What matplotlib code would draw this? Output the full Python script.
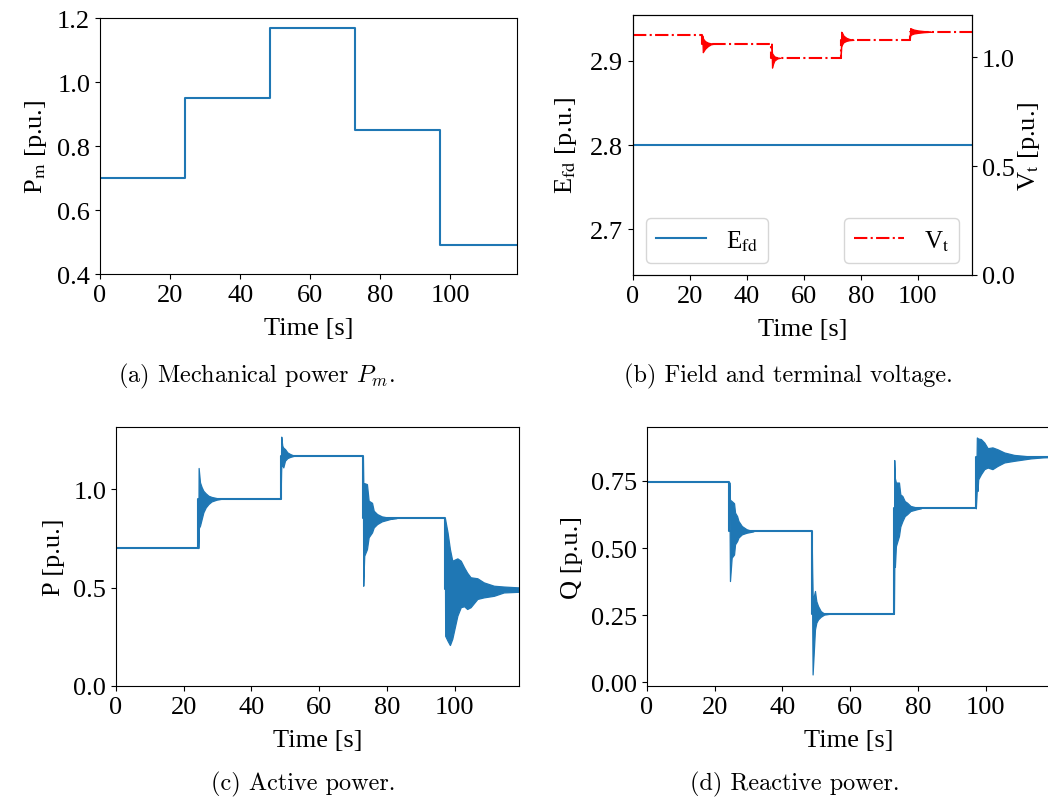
import matplotlib
matplotlib.use('Agg')
import matplotlib.pyplot as plt
import numpy as np

# ---------------- data ----------------
t_end = 119.0
event_times = [24.3, 48.6, 72.9, 97.1]

pm_levels = [0.70, 0.95, 1.17, 0.85, 0.49]
efd_level = 2.80
vt_levels = [1.101, 1.064, 0.998, 1.081, 1.118]
p_levels = [0.700, 0.951, 1.169, 0.853, 0.490]
q_levels = [0.745, 0.562, 0.255, 0.648, 0.840]

# oscillation envelopes after each event: time after event, upper, lower
vt_dt = [[0, 0.2, 0.5, 1.0, 2.0, 3.0, 4.5],
         [0, 0.2, 0.5, 1.0, 2.0, 3.0],
         [0, 0.2, 0.5, 1.0, 2.0, 3.0, 4.5],
         [0, 0.2, 0.5, 1.5, 3.0, 5.0, 7.5]]
vt_up = [[1.101, 1.090, 1.083, 1.075, 1.068, 1.065, 1.064],
         [1.064, 1.020, 1.014, 1.005, 1.000, 0.998],
         [0.998, 1.118, 1.113, 1.100, 1.090, 1.085, 1.081],
         [1.081, 1.135, 1.133, 1.128, 1.124, 1.121, 1.118]]
vt_lo = [[1.101, 1.024, 1.030, 1.040, 1.052, 1.060, 1.064],
         [1.064, 0.953, 0.968, 0.985, 0.995, 0.998],
         [0.998, 1.050, 1.060, 1.070, 1.076, 1.079, 1.081],
         [1.081, 1.100, 1.105, 1.110, 1.113, 1.116, 1.118]]

p_dt = [[0, 0.1, 0.5, 1.0, 1.5, 2.2, 3.0, 3.9, 5.4, 7.0],
        [0, 0.2, 0.5, 0.8, 1.3, 2.0, 2.8, 4.0],
        [0, 0.1, 0.4, 1.2, 1.7, 2.7, 3.2, 4.2, 5.6, 8.1, 10.0],
        [0, 0.1, 0.8, 1.5, 2.2, 3.7, 4.7, 5.7, 6.6, 7.6, 9.6, 11.5, 14.5, 17.4, 21.4, 23.5]]
p_up = [[0.700, 1.107, 1.034, 1.009, 0.991, 0.978, 0.966, 0.960, 0.954, 0.951],
        [0.951, 1.266, 1.220, 1.210, 1.203, 1.186, 1.178, 1.169],
        [1.169, 1.030, 1.030, 1.025, 0.941, 0.930, 0.890, 0.873, 0.861, 0.853, 0.853],
        [0.853, 0.845, 0.780, 0.695, 0.636, 0.648, 0.636, 0.602, 0.575, 0.552, 0.547, 0.526, 0.509, 0.505, 0.501, 0.500]]
p_lo = [[0.700, 0.800, 0.814, 0.848, 0.882, 0.907, 0.924, 0.937, 0.946, 0.951],
        [0.951, 1.130, 1.120, 1.110, 1.144, 1.157, 1.163, 1.169],
        [1.169, 0.509, 0.661, 0.695, 0.755, 0.780, 0.805, 0.822, 0.836, 0.848, 0.853],
        [0.853, 0.255, 0.230, 0.208, 0.240, 0.357, 0.400, 0.405, 0.391, 0.400, 0.442, 0.450, 0.458, 0.475, 0.478, 0.480]]

q_dt = [[0, 0.2, 0.7, 1.4, 1.7, 2.3, 2.7, 3.7, 5.1, 7.1],
        [0, 0.3, 1.0, 1.4, 1.9, 2.7, 3.7, 5.3],
        [0, 0.1, 0.3, 0.6, 0.9, 1.5, 1.9, 2.5, 3.2, 3.9, 4.9, 6.9, 8.0],
        [0, 0.3, 0.5, 0.7, 1.5, 2.5, 3.5, 4.9, 6.4, 8.4, 11.3, 16.2, 20.0, 22.5]]
q_up = [[0.745, 0.680, 0.675, 0.667, 0.632, 0.619, 0.601, 0.582, 0.570, 0.562],
        [0.562, 0.300, 0.340, 0.302, 0.284, 0.265, 0.256, 0.255],
        [0.255, 0.828, 0.760, 0.744, 0.744, 0.744, 0.700, 0.694, 0.675, 0.669, 0.657, 0.650, 0.648],
        [0.648, 0.912, 0.910, 0.908, 0.906, 0.893, 0.872, 0.875, 0.868, 0.856, 0.847, 0.841, 0.841, 0.840]]
q_lo = [[0.745, 0.377, 0.464, 0.476, 0.514, 0.526, 0.539, 0.551, 0.557, 0.562],
        [0.562, 0.029, 0.197, 0.222, 0.234, 0.244, 0.252, 0.255],
        [0.255, 0.450, 0.430, 0.507, 0.520, 0.545, 0.580, 0.600, 0.619, 0.626, 0.638, 0.645, 0.648],
        [0.648, 0.740, 0.713, 0.756, 0.775, 0.794, 0.800, 0.794, 0.806, 0.819, 0.825, 0.834, 0.838, 0.839]]

captions = [r"(a) Mechanical power $P_m$.",
            "(b) Field and terminal voltage.",
            "(c) Active power.",
            "(d) Reactive power."]

# ---------------- style ----------------
plt.rcParams['font.family'] = ['Liberation Serif', 'DejaVu Serif']
plt.rcParams['mathtext.fontset'] = 'stix'
FS = 19
plt.rcParams['font.size'] = FS
plt.rcParams['axes.labelpad'] = 6
BLUE = '#1f77b4'
XPAD = 8

fig = plt.figure(figsize=(10.48, 8.03), dpi=100)
W, H = 1048.0, 803.0


def add_ax(l, r, t, b):
    return fig.add_axes([l / W, 1 - b / H, (r - l) / W, (b - t) / H])


edges = [0.0] + event_times + [t_end]


def draw_step(ax, levels, **kw):
    return ax.step(edges, list(levels) + [levels[-1]], where='post', **kw)


def draw_env(ax, dts, ups, los, color):
    for ev, dt, up, lo in zip(event_times, dts, ups, los):
        tt = ev + np.asarray(dt)
        ax.fill_between(tt, lo, up, color=color, lw=0.9, edgecolor=color)


# (a)
axa = add_ax(100, 517, 19, 275)
draw_step(axa, pm_levels, color=BLUE, lw=1.5)
axa.set_xlim(0, t_end)
axa.set_ylim(0.4, 1.2)
axa.set_yticks([0.4, 0.6, 0.8, 1.0, 1.2])
axa.set_xticks([0, 20, 40, 60, 80, 100])
axa.set_xlabel('Time [s]', labelpad=XPAD)
axa.set_ylabel(r'P$_\mathrm{m}$ [p.u.]')

# (b)
axb = add_ax(633, 972, 16, 276)
axb.plot([0, t_end], [efd_level, efd_level], color=BLUE, lw=1.5, label=r'E$_\mathrm{fd}$')
axb.set_xlim(0, t_end)
axb.set_ylim(2.646, 2.954)
axb.set_yticks([2.7, 2.8, 2.9])
axb.set_xticks([0, 20, 40, 60, 80, 100])
axb.set_xlabel('Time [s]', labelpad=XPAD)
axb.set_ylabel(r'E$_\mathrm{fd}$ [p.u.]', labelpad=8)
axb2 = axb.twinx()
draw_step(axb2, vt_levels, color='red', lw=1.5, ls='-.', label=r'V$_\mathrm{t}$')
draw_env(axb2, vt_dt, vt_up, vt_lo, 'red')
axb2.set_ylim(0, 1.195)
axb2.set_yticks([0.0, 0.5, 1.0])
axb2.set_ylabel(r'V$_\mathrm{t}$ [p.u.]', labelpad=1)
axb2.set_xlim(0, t_end)
axb.legend(loc='lower left', fontsize=18)
axb2.legend(loc='lower right', fontsize=18)

# (c)
axc = add_ax(116, 519, 428, 687)
draw_step(axc, p_levels, color=BLUE, lw=1.5)
draw_env(axc, p_dt, p_up, p_lo, BLUE)
axc.set_xlim(0, t_end)
axc.set_ylim(0, 1.315)
axc.set_yticks([0.0, 0.5, 1.0])
axc.set_xticks([0, 20, 40, 60, 80, 100])
axc.set_xlabel('Time [s]', labelpad=XPAD)
axc.set_ylabel('P [p.u.]')

# (d)
axd = add_ax(647, 1050, 428, 687)
draw_step(axd, q_levels, color=BLUE, lw=1.5)
draw_env(axd, q_dt, q_up, q_lo, BLUE)
axd.set_xlim(0, t_end)
axd.set_ylim(-0.014, 0.951)
axd.set_yticks([0.0, 0.25, 0.5, 0.75])
axd.set_yticklabels(['0.00', '0.25', '0.50', '0.75'])
axd.set_xticks([0, 20, 40, 60, 80, 100])
axd.set_xlabel('Time [s]', labelpad=XPAD)
axd.set_ylabel('Q [p.u.]')

# captions (left edges)
cap_pos = [(118, 376), (624, 376), (211, 784), (690, 784)]
for (cx, cy), txt in zip(cap_pos, captions):
    fig.text(cx / W, 1 - cy / H, txt, ha='left', va='center',
             family='cmr10', math_fontfamily='cm', fontsize=17.5)

fig.savefig('out.png', dpi=100)
